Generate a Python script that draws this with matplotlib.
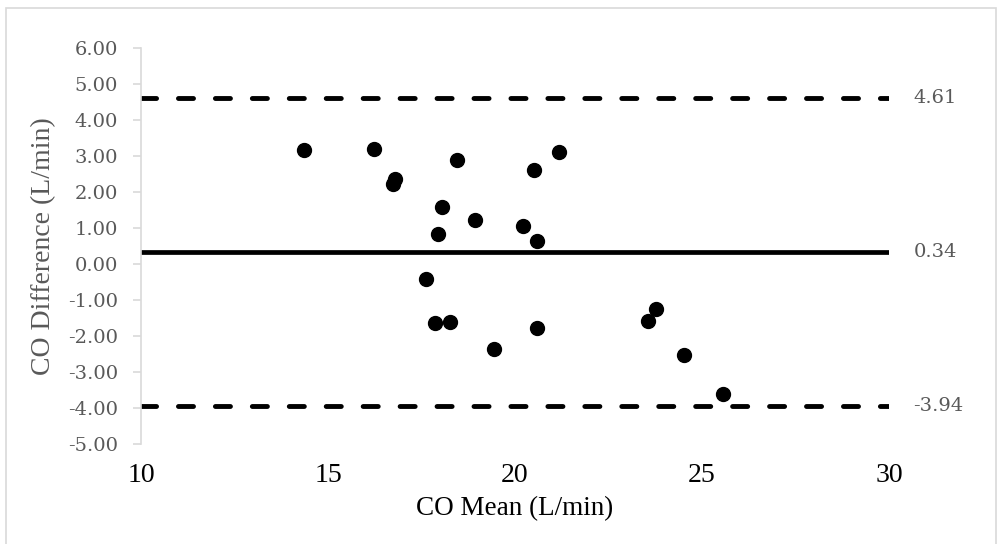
import matplotlib.pyplot as plt
from matplotlib.patches import Rectangle

# Bland-Altman data
co_mean = [14.37, 16.22, 16.78, 16.73, 18.44, 20.50, 21.17, 18.04, 18.93, 20.21, 17.93,
           20.60, 17.61, 17.87, 18.26, 20.58, 19.44, 23.78, 23.56, 24.51, 25.55]
co_diff = [3.16, 3.19, 2.35, 2.22, 2.89, 2.61, 3.11, 1.57, 1.22, 1.06, 0.83,
           0.64, -0.42, -1.63, -1.61, -1.78, -2.36, -1.26, -1.59, -2.54, -3.62]
bias = 0.34
upper_loa = 4.61
lower_loa = -3.94
line_x = [10, 30]

yticks = [6, 5, 4, 3, 2, 1, 0, -1, -2, -3, -4, -5]
xticks = [10, 15, 20, 25, 30]

gray = '#595959'

fig = plt.figure(figsize=(10, 5.44), dpi=100)
ax = fig.add_axes([0.141, 0.1838, 0.748, 0.728])

ax.plot(line_x, [bias, bias], color='black', lw=3.4, solid_capstyle='round')
ax.plot(line_x, [upper_loa, upper_loa], color='black', lw=3.5,
        dashes=(3.1, 4.5), dash_capstyle='round')
ax.plot(line_x, [lower_loa, lower_loa], color='black', lw=3.5,
        dashes=(3.1, 4.5), dash_capstyle='round')
ax.plot(co_mean, co_diff, 'o', color='black', ms=10, zorder=3, clip_on=False)

for v in [upper_loa, bias, lower_loa]:
    ax.text(30.65, v, f'{v:.2f}', ha='left', va='center', color=gray,
            fontsize=14, family='DejaVu Serif', clip_on=False)

ax.set_xlim(10, 30)
ax.set_ylim(-5, 6)
ax.set_xticks(xticks)
ax.set_yticks(yticks)
ax.set_yticklabels([f'{t:.2f}' for t in yticks], family='DejaVu Serif', fontsize=14, color=gray)
ax.set_xticklabels([str(t) for t in xticks], family='Liberation Serif', fontsize=20, color='black')

for s in ['top', 'right', 'bottom']:
    ax.spines[s].set_visible(False)
ax.spines['left'].set_color('#d9d9d9')
ax.spines['left'].set_linewidth(1.2)
ax.tick_params(axis='y', length=5.5, width=1.2, color='#d9d9d9', pad=11)
ax.tick_params(axis='x', length=0, pad=13.5)

ax.set_xlabel('CO Mean (L/min)', family='Liberation Serif', fontsize=19.5, color='black', labelpad=6)
ax.set_ylabel('CO Difference (L/min)', family='Liberation Serif', fontsize=20, color=gray, labelpad=8.5)

fig.patches.append(Rectangle((0.006, -0.01), 0.99, 0.995, transform=fig.transFigure,
                             fill=False, edgecolor='#d9d9d9', lw=1.2))

fig.savefig('out.png', dpi=100)
